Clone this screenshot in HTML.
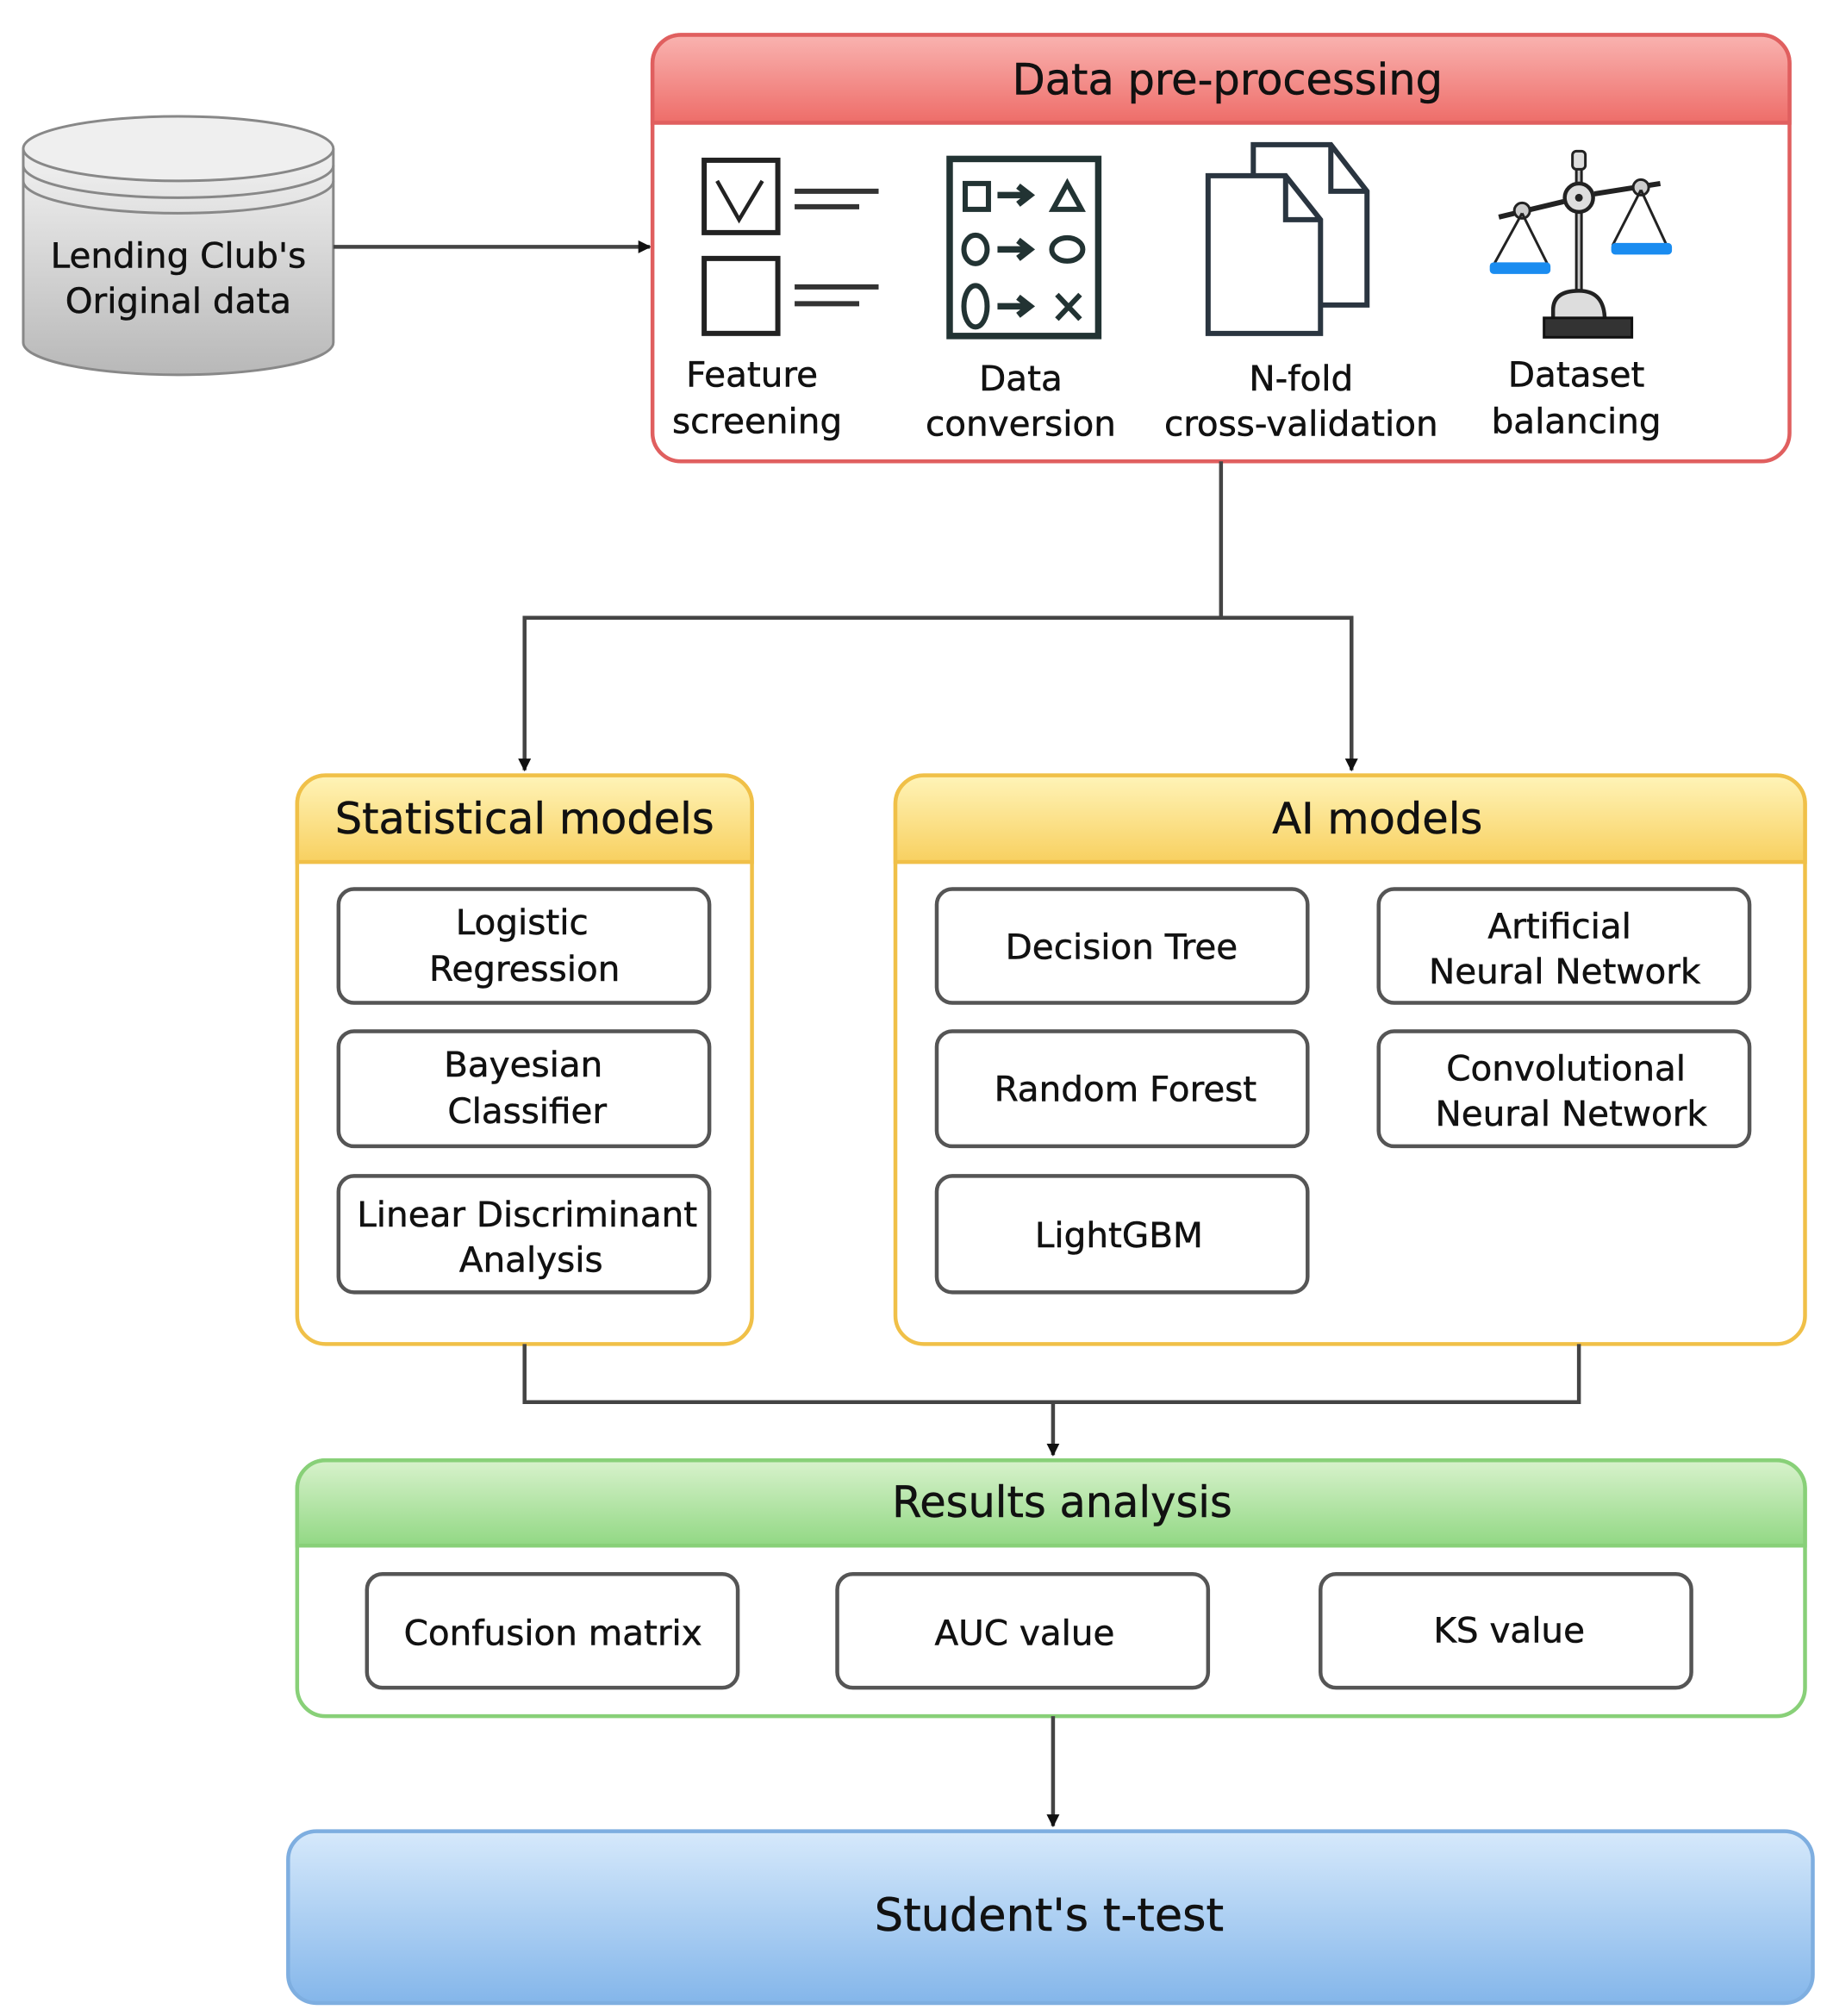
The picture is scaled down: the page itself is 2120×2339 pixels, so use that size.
<!DOCTYPE html>
<html><head><meta charset="utf-8"><style>
html,body{margin:0;padding:0;background:#fff}
svg{display:block}
text{font-family:"DejaVu Sans","Liberation Sans",sans-serif;fill:#111;stroke:#111;stroke-width:0.35px}
</style></head><body>
<svg width="2120" height="2339" viewBox="0 0 1414 1560" preserveAspectRatio="none" xmlns="http://www.w3.org/2000/svg">
<defs>
<linearGradient id="cyl" x1="0" y1="0" x2="0" y2="1"><stop offset="0" stop-color="#f2f2f2"/><stop offset="1" stop-color="#b8b8b8"/></linearGradient>
<linearGradient id="red" x1="0" y1="0" x2="0" y2="1"><stop offset="0" stop-color="#f9b3b0"/><stop offset="1" stop-color="#ee6d69"/></linearGradient>
<linearGradient id="yel" x1="0" y1="0" x2="0" y2="1"><stop offset="0" stop-color="#fff4b8"/><stop offset="1" stop-color="#f8d060"/></linearGradient>
<linearGradient id="grn" x1="0" y1="0" x2="0" y2="1"><stop offset="0" stop-color="#d8f2cc"/><stop offset="1" stop-color="#92d884"/></linearGradient>
<linearGradient id="blu" x1="0" y1="0" x2="0" y2="1"><stop offset="0" stop-color="#d6e9fb"/><stop offset="1" stop-color="#84b6ea"/></linearGradient>
<marker id="ar" markerWidth="10" markerHeight="10" refX="9" refY="5" orient="auto" markerUnits="userSpaceOnUse"><path d="M0,0 L10,5 L0,10 Z" fill="#111"/></marker>
</defs>

<path d="M18,115 L18,265 A120,25 0 0 0 258,265 L258,115" fill="url(#cyl)" stroke="#888" stroke-width="2"/>
<ellipse cx="138" cy="115" rx="120" ry="25" fill="#efefef" stroke="#888" stroke-width="2"/>
<path d="M18,128 A120,25 0 0 0 258,128" fill="none" stroke="#888" stroke-width="2"/>
<path d="M18,140 A120,25 0 0 0 258,140" fill="none" stroke="#888" stroke-width="2"/>
<text x="138" y="207" font-size="27" text-anchor="middle">Lending Club's</text>
<text x="138" y="242" font-size="27" text-anchor="middle">Original data</text>
<line x1="258" y1="191" x2="503" y2="191" stroke="#444" stroke-width="3" marker-end="url(#ar)"/>

<rect x="505" y="27" width="880" height="330" rx="22" fill="#fff" stroke="#e05f5f" stroke-width="3"/>
<path d="M527,27 H1363 A22,22 0 0 1 1385,49 V95 H505 V49 A22,22 0 0 1 527,27 Z" fill="url(#red)" stroke="#e05f5f" stroke-width="3"/>
<text x="950" y="73" font-size="33" text-anchor="middle">Data pre-processing</text>

<rect x="545" y="124" width="57" height="56" fill="#fff" stroke="#222" stroke-width="4"/>
<path d="M555,140 L572,170 L590,140" fill="none" stroke="#222" stroke-width="3"/>
<rect x="545" y="200" width="57" height="58" fill="#fff" stroke="#222" stroke-width="4"/>
<line x1="615" y1="148" x2="680" y2="148" stroke="#333" stroke-width="4"/>
<line x1="615" y1="160" x2="665" y2="160" stroke="#333" stroke-width="4"/>
<line x1="615" y1="222" x2="680" y2="222" stroke="#333" stroke-width="4"/>
<line x1="615" y1="235" x2="665" y2="235" stroke="#333" stroke-width="4"/>
<rect x="735" y="123" width="115" height="137" fill="#fff" stroke="#233" stroke-width="5"/>
<rect x="747" y="142" width="18" height="20" fill="none" stroke="#233" stroke-width="4"/>
<path d="M772,151 H795 M788,144 L797,151 L788,158" fill="none" stroke="#233" stroke-width="5"/>
<path d="M815,162 L826,142 L837,162 Z" fill="none" stroke="#233" stroke-width="4"/>
<ellipse cx="755" cy="193" rx="9" ry="11" fill="none" stroke="#233" stroke-width="4"/>
<path d="M772,193 H795 M788,186 L797,193 L788,200" fill="none" stroke="#233" stroke-width="5"/>
<ellipse cx="826" cy="193" rx="12" ry="9" fill="none" stroke="#233" stroke-width="4"/>
<ellipse cx="755" cy="237" rx="9" ry="16" fill="none" stroke="#233" stroke-width="4"/>
<path d="M772,237 H795 M788,230 L797,237 L788,244" fill="none" stroke="#233" stroke-width="5"/>
<path d="M818,228 L836,247 M836,228 L818,247" stroke="#233" stroke-width="4"/>
<path d="M970,112 H1030 L1058,148 V236 H970 Z" fill="#fff" stroke="#2a3540" stroke-width="4"/>
<path d="M1030,112 V148 H1058" fill="none" stroke="#2a3540" stroke-width="4"/>
<path d="M935,136 H995 L1022,170 V258 H935 Z" fill="#fff" stroke="#2a3540" stroke-width="4"/>
<path d="M995,136 V170 H1022" fill="none" stroke="#2a3540" stroke-width="4"/>
<line x1="1222" y1="125" x2="1222" y2="240" stroke="#222" stroke-width="6"/>
<line x1="1222" y1="125" x2="1222" y2="240" stroke="#ccc" stroke-width="2"/>
<rect x="1217" y="117" width="10" height="14" rx="3" fill="#ddd" stroke="#222" stroke-width="2"/>
<circle cx="1222" cy="153" r="11" fill="#ddd" stroke="#222" stroke-width="3"/>
<circle cx="1222" cy="153" r="3" fill="#222"/>
<path d="M1160,168 L1210,156 M1234,150 L1285,142" stroke="#222" stroke-width="4"/>
<circle cx="1178" cy="163" r="6" fill="#ccc" stroke="#222" stroke-width="2"/>
<circle cx="1270" cy="145" r="6" fill="#ccc" stroke="#222" stroke-width="2"/>
<path d="M1178,165 L1156,205 M1178,165 L1198,205 M1270,147 L1248,190 M1270,147 L1290,190" stroke="#222" stroke-width="2"/>
<rect x="1153" y="203" width="47" height="9" rx="3" fill="#1a8cf0"/>
<rect x="1247" y="188" width="47" height="9" rx="3" fill="#1a8cf0"/>
<path d="M1202,240 Q1202,225 1222,225 Q1242,225 1242,248 H1202 Z" fill="#ddd" stroke="#222" stroke-width="3"/>
<rect x="1195" y="246" width="68" height="15" fill="#333" stroke="#111" stroke-width="2"/>

<g font-size="27" text-anchor="middle">
<text x="582" y="299">Feature</text><text x="586" y="335">screening</text>
<text x="790" y="302">Data</text><text x="790" y="337">conversion</text>
<text x="1007" y="302">N-fold</text><text x="1007" y="337">cross-validation</text>
<text x="1220" y="299">Dataset</text><text x="1220" y="335">balancing</text>
</g>

<path d="M945,357 V478 H406 V596" fill="none" stroke="#444" stroke-width="3" marker-end="url(#ar)"/>
<path d="M945,478 H1046 V596" fill="none" stroke="#444" stroke-width="3" marker-end="url(#ar)"/>

<rect x="230" y="600" width="352" height="440" rx="22" fill="#fff" stroke="#f0c048" stroke-width="3"/>
<path d="M252,600 H560 A22,22 0 0 1 582,622 V667 H230 V622 A22,22 0 0 1 252,600 Z" fill="url(#yel)" stroke="#f0c048" stroke-width="3"/>
<text x="406" y="645" font-size="33" text-anchor="middle">Statistical models</text>
<rect x="693" y="600" width="704" height="440" rx="22" fill="#fff" stroke="#f0c048" stroke-width="3"/>
<path d="M715,600 H1375 A22,22 0 0 1 1397,622 V667 H693 V622 A22,22 0 0 1 715,600 Z" fill="url(#yel)" stroke="#f0c048" stroke-width="3"/>
<text x="1066" y="645" font-size="33" text-anchor="middle">AI models</text>

<g fill="#fff" stroke="#555" stroke-width="3">
<rect x="262" y="688" width="287" height="88" rx="12"/>
<rect x="262" y="798" width="287" height="89" rx="12"/>
<rect x="262" y="910" width="287" height="90" rx="12"/>
<rect x="725" y="688" width="287" height="88" rx="12"/>
<rect x="725" y="798" width="287" height="89" rx="12"/>
<rect x="725" y="910" width="287" height="90" rx="12"/>
<rect x="1067" y="688" width="287" height="88" rx="12"/>
<rect x="1067" y="798" width="287" height="89" rx="12"/>
</g>
<g font-size="27" text-anchor="middle">
<text x="404" y="723">Logistic</text><text x="406" y="759">Regression</text>
<text x="405" y="833">Bayesian</text><text x="408" y="869">Classifier</text>
<text x="408" y="949">Linear Discriminant</text><text x="411" y="984">Analysis</text>
<text x="868" y="742">Decision Tree</text>
<text x="871" y="852">Random Forest</text>
<text x="866" y="965">LightGBM</text>
<text x="1207" y="726">Artificial</text><text x="1211" y="761">Neural Network</text>
<text x="1212" y="836">Convolutional</text><text x="1216" y="871">Neural Network</text>
</g>

<path d="M406,1040 V1085 H1222 V1040" fill="none" stroke="#444" stroke-width="3"/>
<line x1="815" y1="1085" x2="815" y2="1126" stroke="#444" stroke-width="3" marker-end="url(#ar)"/>

<rect x="230" y="1130" width="1167" height="198" rx="22" fill="#fff" stroke="#88d078" stroke-width="3"/>
<path d="M252,1130 H1375 A22,22 0 0 1 1397,1152 V1196 H230 V1152 A22,22 0 0 1 252,1130 Z" fill="url(#grn)" stroke="#88d078" stroke-width="3"/>
<text x="822" y="1174" font-size="33" text-anchor="middle">Results analysis</text>
<g fill="#fff" stroke="#555" stroke-width="3">
<rect x="284" y="1218" width="287" height="88" rx="12"/>
<rect x="648" y="1218" width="287" height="88" rx="12"/>
<rect x="1022" y="1218" width="287" height="88" rx="12"/>
</g>
<g font-size="27" text-anchor="middle">
<text x="428" y="1273">Confusion matrix</text>
<text x="793" y="1273">AUC value</text>
<text x="1168" y="1271">KS value</text>
</g>
<line x1="815" y1="1328" x2="815" y2="1413" stroke="#444" stroke-width="3" marker-end="url(#ar)"/>

<rect x="223" y="1417" width="1180" height="133" rx="22" fill="url(#blu)" stroke="#7eaee0" stroke-width="3"/>
<text x="812" y="1494" font-size="35" text-anchor="middle">Student's t-test</text>
</svg>
</body></html>
